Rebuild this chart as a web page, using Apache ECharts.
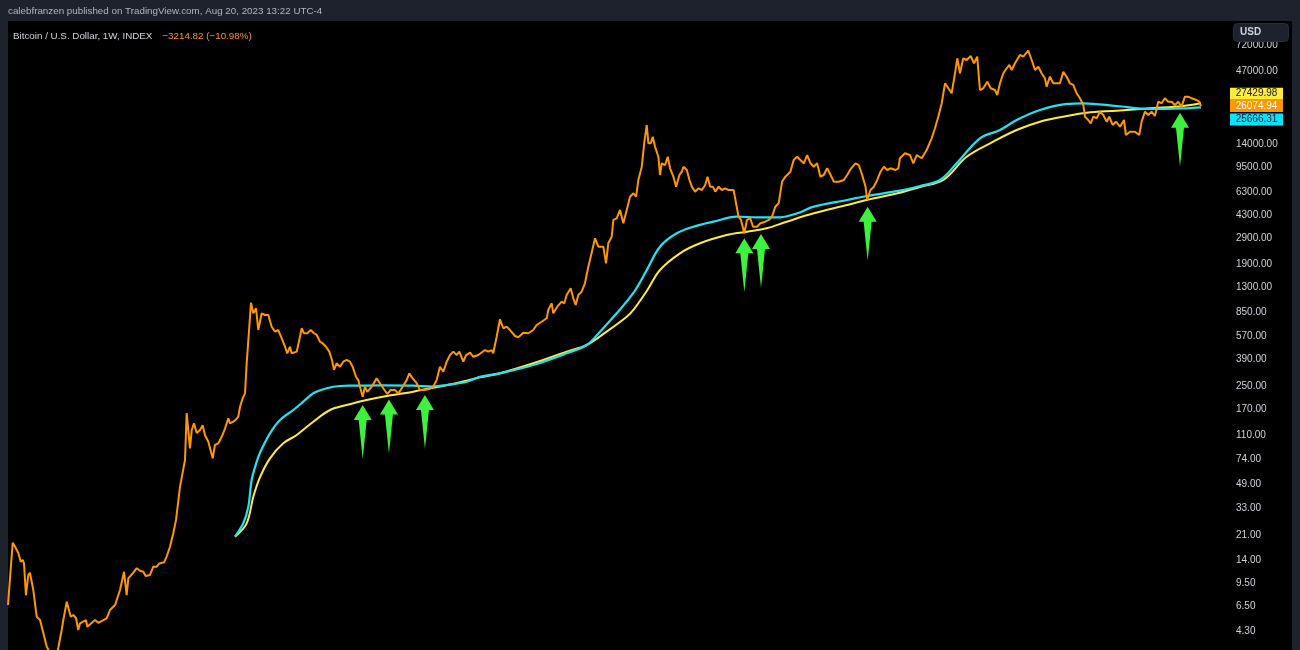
<!DOCTYPE html>
<html><head><meta charset="utf-8">
<script src="https://cdn.jsdelivr.net/npm/echarts@6/dist/echarts.min.js"></script>
<style>html,body{margin:0;padding:0;background:#000;}#c{width:1300px;height:650px;}</style>
</head><body><div id="c"></div>
<script>
// ---- DATA (decimal year, price in USD) ----
const btc = [
[2011.430,6.62],[2011.478,18.6],[2011.502,17.4],[2011.536,15.7],[2011.560,13.6],[2011.581,14.0],[2011.594,13.2],[2011.614,7.8],[2011.638,10.9],[2011.655,11.3],[2011.689,8.5],[2011.724,5.45],[2011.758,5.16],[2011.792,4.16],[2011.827,3.31],[2011.860,3.0],[2011.905,2.8],[2011.935,3.05],[2011.945,3.24],[2011.980,4.37],[2011.997,5.16],[2012.032,6.99],[2012.048,7.08],[2012.073,5.45],[2012.099,5.61],[2012.127,5.34],[2012.150,4.37],[2012.168,4.89],[2012.229,5.16],[2012.243,4.62],[2012.322,5.16],[2012.355,4.93],[2012.441,5.31],[2012.475,6.09],[2012.527,6.62],[2012.578,8.5],[2012.595,8.74],[2012.619,11.5],[2012.646,7.8],[2012.663,10.3],[2012.708,11.2],[2012.749,12.2],[2012.783,11.7],[2012.817,11.5],[2012.841,10.7],[2012.885,10.9],[2012.919,12.5],[2012.954,12.5],[2012.981,13.2],[2013.029,13.45],[2013.056,14.8],[2013.090,17.4],[2013.124,21.8],[2013.152,27.2],[2013.193,47.2],[2013.244,73.5],[2013.261,160],[2013.278,164],[2013.295,89],[2013.313,121],[2013.336,135],[2013.364,115],[2013.398,121],[2013.425,131],[2013.449,111],[2013.483,99.6],[2013.500,99.6],[2013.528,75.6],[2013.551,94.3],[2013.586,97],[2013.620,108],[2013.654,124],[2013.688,147],[2013.705,135],[2013.739,139],[2013.767,144],[2013.790,151],[2013.808,178],[2013.835,205],[2013.859,222],[2013.876,366],[2013.903,672],[2013.920,1001],[2013.944,840],[2013.972,912],[2013.995,636],[2014.030,840],[2014.064,816],[2014.098,816],[2014.132,672],[2014.166,619],[2014.200,636],[2014.235,554],[2014.269,482],[2014.292,432],[2014.320,482],[2014.337,432],[2014.389,444],[2014.415,539],[2014.440,655],[2014.463,603],[2014.497,603],[2014.532,636],[2014.566,603],[2014.594,586],[2014.627,524],[2014.655,510],[2014.689,482],[2014.723,444],[2014.750,387],[2014.771,328],[2014.798,366],[2014.832,346],[2014.866,376],[2014.901,387],[2014.935,376],[2014.962,346],[2014.996,293],[2015.020,277],[2015.037,248],[2015.065,210],[2015.088,248],[2015.112,228],[2015.157,248],[2015.208,285],[2015.242,263],[2015.276,242],[2015.317,220],[2015.352,235],[2015.396,235],[2015.430,222],[2015.475,248],[2015.516,277],[2015.542,310],[2015.577,285],[2015.618,263],[2015.652,235],[2015.693,235],[2015.737,238],[2015.788,248],[2015.823,277],[2015.857,346],[2015.891,318],[2015.926,376],[2015.960,420],[2015.994,444],[2016.028,420],[2016.055,444],[2016.096,376],[2016.124,420],[2016.165,437],[2016.199,408],[2016.250,420],[2016.319,456],[2016.352,444],[2016.387,456],[2016.403,432],[2016.438,569],[2016.472,760],[2016.506,655],[2016.541,672],[2016.575,636],[2016.626,576],[2016.660,564],[2016.711,608],[2016.762,603],[2016.813,636],[2016.848,691],[2016.899,730],[2016.951,773],[2016.967,887],[2017.002,991],[2017.018,840],[2017.059,937],[2017.104,1018],[2017.131,991],[2017.155,1138],[2017.197,1272],[2017.223,1077],[2017.248,964],[2017.275,1138],[2017.309,1202],[2017.343,1382],[2017.377,1820],[2017.394,2034],[2017.446,2916],[2017.480,2537],[2017.531,2537],[2017.559,1925],[2017.582,2685],[2017.617,2995],[2017.634,3953],[2017.668,4064],[2017.702,4666],[2017.736,3741],[2017.771,4666],[2017.805,5818],[2017.839,6155],[2017.867,5818],[2017.890,7676],[2017.925,9572],[2017.952,14500],[2017.976,19130],[2017.993,14110],[2018.017,14110],[2018.038,15750],[2018.061,13340],[2018.095,11300],[2018.112,8340],[2018.130,10130],[2018.164,9840],[2018.191,11300],[2018.215,9320],[2018.249,8110],[2018.277,6870],[2018.311,8340],[2018.335,8810],[2018.352,9572],[2018.387,9060],[2018.414,7676],[2018.438,6870],[2018.472,6320],[2018.506,6690],[2018.541,6500],[2018.575,7070],[2018.599,8110],[2018.626,6870],[2018.654,6870],[2018.678,6320],[2018.712,6870],[2018.746,6500],[2018.780,6690],[2018.814,6500],[2018.866,6500],[2018.883,6320],[2018.917,4175],[2018.942,3953],[2018.976,3168],[2019.003,3953],[2019.037,4064],[2019.065,3535],[2019.106,3535],[2019.140,3741],[2019.191,3842],[2019.226,3953],[2019.260,4175],[2019.294,4928],[2019.328,5213],[2019.363,7464],[2019.397,8110],[2019.448,8810],[2019.482,10700],[2019.517,11300],[2019.551,10700],[2019.585,10130],[2019.620,11620],[2019.654,10130],[2019.688,9572],[2019.722,10130],[2019.756,8110],[2019.790,8340],[2019.825,9320],[2019.852,8580],[2019.893,7464],[2019.944,7464],[2019.996,7676],[2020.030,8340],[2020.071,9320],[2020.115,10130],[2020.149,9840],[2020.184,8340],[2020.218,6870],[2020.235,5507],[2020.269,6500],[2020.303,6870],[2020.338,7676],[2020.372,8810],[2020.406,9572],[2020.441,9060],[2020.475,9320],[2020.526,9060],[2020.554,9320],[2020.571,11010],[2020.622,11960],[2020.674,11620],[2020.708,10130],[2020.743,11620],[2020.794,11010],[2020.845,12630],[2020.896,15340],[2020.930,18110],[2020.964,21960],[2020.999,27430],[2021.033,38220],[2021.067,35190],[2021.101,32370],[2021.135,45110],[2021.159,57890],[2021.186,45110],[2021.220,57890],[2021.255,56270],[2021.296,60130],[2021.330,53270],[2021.363,59440],[2021.391,34200],[2021.425,35190],[2021.466,39250],[2021.501,35190],[2021.545,34200],[2021.568,31480],[2021.596,38220],[2021.630,45110],[2021.665,49020],[2021.692,51790],[2021.716,47670],[2021.750,53270],[2021.801,61140],[2021.835,59440],[2021.886,65670],[2021.921,56270],[2021.955,47670],[2021.989,50350],[2022.023,45110],[2022.057,41530],[2022.074,36130],[2022.108,42650],[2022.142,38220],[2022.177,38220],[2022.211,38220],[2022.245,46340],[2022.279,42650],[2022.313,38220],[2022.347,37170],[2022.382,32370],[2022.416,29800],[2022.450,26670],[2022.467,21960],[2022.501,20780],[2022.526,19670],[2022.553,21960],[2022.587,21380],[2022.621,23860],[2022.655,22590],[2022.690,20210],[2022.716,21960],[2022.751,19130],[2022.785,20210],[2022.826,18600],[2022.867,20780],[2022.887,16200],[2022.928,17120],[2022.979,17120],[2023.023,16200],[2023.048,20210],[2023.082,23860],[2023.116,22590],[2023.150,23860],[2023.184,22210],[2023.218,28160],[2023.252,27430],[2023.286,29800],[2023.320,28160],[2023.355,28160],[2023.389,26670],[2023.423,28160],[2023.457,25920],[2023.491,30600],[2023.526,30600],[2023.560,29800],[2023.611,28960],[2023.638,28160],[2023.656,26074.94]
];
const maCyan = [
[2013.756,20.6],[2013.841,25.7],[2013.893,33.9],[2013.927,52.8],[2013.979,71.5],[2014.013,83.2],[2014.115,114.5],[2014.217,142.8],[2014.354,168.6],[2014.456,193.5],[2014.559,222.5],[2014.696,241.7],[2014.832,251],[2014.969,252.5],[2015.242,254],[2015.583,252.5],[2015.788,249],[2015.926,255.3],[2016.131,269.7],[2016.267,293],[2016.472,310],[2016.813,356],[2017.155,432],[2017.361,496],[2017.497,619],[2017.668,840],[2017.839,1176],[2017.976,1720],[2018.112,2537],[2018.283,3168],[2018.453,3535],[2018.658,3842],[2018.898,4175],[2019.106,4133],[2019.341,4133],[2019.517,4416],[2019.688,4928],[2020.030,5507],[2020.230,5887],[2020.571,6427],[2020.776,6950],[2020.981,7676],[2021.152,10130],[2021.391,15340],[2021.596,17600],[2021.767,20780],[2022.006,24540],[2022.279,27120],[2022.450,27430],[2022.792,26220],[2023.133,24950],[2023.474,25230],[2023.656,25666.31]
];
const maYellow = [
[2013.756,20.6],[2013.876,25.7],[2013.944,40.0],[2014.013,55.4],[2014.115,75.6],[2014.251,97],[2014.389,111.4],[2014.559,138.8],[2014.730,168.6],[2014.901,183.2],[2015.071,196.8],[2015.311,212.7],[2015.583,228.5],[2015.755,241.7],[2015.926,254],[2016.131,274.3],[2016.267,290],[2016.472,310],[2016.813,366],[2017.155,444],[2017.361,496],[2017.565,619],[2017.771,793],[2017.839,887],[2017.976,1216],[2018.112,1723],[2018.317,2273],[2018.522,2685],[2018.795,3080],[2019.003,3254],[2019.205,3443],[2019.410,3842],[2019.688,4416],[2020.030,5069],[2020.230,5507],[2020.571,6218],[2020.776,6835],[2021.015,7676],[2021.255,11300],[2021.527,14500],[2021.767,17600],[2022.006,20210],[2022.279,22210],[2022.484,23460],[2022.792,24250],[2023.133,25230],[2023.474,26220],[2023.656,27429.98]
];
const arrowTime  = [2015.065, 2015.334, 2015.703, 2018.976, 2019.147, 2020.240, 2023.441];
const arrowPrice = [183, 201, 216, 2916, 3131, 4928, 23460];
const yTicks = [72000, 47000, 14000, 9500, 6300, 4300, 2900, 1900, 1300, 850, 570, 390, 250, 170, 110, 74, 49, 33, 21, 14, 9.5, 6.5, 4.3];
const xRange = [2011.43, 2023.933];
const yRange = [3.137, 107500];
const headerText = 'calebfranzen published on TradingView.com, Aug 20, 2023 13:22 UTC-4';
const symbolText = 'Bitcoin / U.S. Dollar, 1W, INDEX';
const changeText = '\u22123214.82 (\u221210.98%)';

// ---- CHART ----
const FONT = '"Liberation Sans", Arial, sans-serif';
const chart = echarts.init(document.getElementById('c'), null, {renderer: 'canvas'});
const last = a => a[a.length - 1];

function priceTag(series, bg, fg, dy) {
  return {
    silent: true,
    animation: false,
    symbol: 'rect',
    symbolSize: [53, 12],
    symbolOffset: [28.5, dy],
    itemStyle: {color: bg},
    label: {show: true, position: 'inside', color: fg, fontSize: 10, fontFamily: FONT,
      formatter: p => Number(p.value).toFixed(2)},
    data: [{coord: [xRange[1], last(series)[1]], value: last(series)[1]}]
  };
}

const option = {
  backgroundColor: '#000000',
  animation: false,
  title: [
    {text: headerText, left: 8, top: 6, padding: 0,
     textStyle: {color: '#b2b5be', fontSize: 9.8, fontWeight: 'normal', fontFamily: FONT}},
    {text: '{a|' + symbolText + '}  {b|' + changeText + '}', left: 13, top: 27, padding: 0,
     textStyle: {fontFamily: FONT, fontWeight: 'normal', rich: {
       a: {color: '#d1d4dc', fontSize: 9.8, fontWeight: 'normal', fontFamily: FONT},
       b: {color: '#ff9800', fontSize: 9.8, fontWeight: 'normal', fontFamily: FONT}}}}
  ],
  grid: {left: 8, right: 72, top: 21, bottom: 0, containLabel: false},
  xAxis: {type: 'value', min: xRange[0], max: xRange[1], show: false},
  yAxis: {
    type: 'log', logBase: 10, min: yRange[0], max: yRange[1], position: 'right',
    axisLine: {show: false}, axisTick: {show: false}, splitLine: {show: false},
    axisLabel: {customValues: yTicks, formatter: v => Number(v).toFixed(2),
      color: '#d1d4dc', fontSize: 10, fontFamily: FONT, margin: 8}
  },
  series: [
    {name: 'MA yellow', type: 'line', data: maYellow, showSymbol: false, symbol: 'none',
     smooth: 0.35, lineStyle: {color: '#ffeb3b', width: 2}, z: 2, silent: true,
     markPoint: priceTag(maYellow, '#ffeb3b', '#131722', -9.6)},
    {name: 'MA cyan', type: 'line', data: maCyan, showSymbol: false, symbol: 'none',
     smooth: 0.35, lineStyle: {color: '#22e3f2', width: 2.2}, z: 2, silent: true,
     markPoint: priceTag(maCyan, '#00e5ff', '#131722', 12.2)},
    {name: 'BTCUSD', type: 'line', data: btc, showSymbol: false, symbol: 'none',
     lineStyle: {color: '#ff9800', width: 2}, z: 3, silent: true,
     markPoint: {
       silent: true, animation: false,
       symbol: 'path://M9,0 L18,15 L13,15 L9,54 L5,15 L0,15 Z',
       symbolSize: [18, 54], symbolOffset: [0, '50%'], symbolKeepAspect: false,
       itemStyle: {color: '#3cf23c'}, label: {show: false},
       data: arrowTime.map((t, i) => ({coord: [t, arrowPrice[i]]}))
     }},
    {name: 'tag', type: 'line', data: [], silent: true,
     markPoint: priceTag(btc, '#ff9800', '#ffffff', -0.3)}
  ],
  graphic: [
    {type: 'rect', shape: {x: 0, y: 0, width: 1300, height: 21}, style: {fill: '#1e222d'}, silent: true},
    {type: 'rect', shape: {x: 0, y: 0, width: 8, height: 650}, style: {fill: '#1e222d'}, silent: true},
    {type: 'rect', shape: {x: 1292, y: 0, width: 8, height: 650}, style: {fill: '#1e222d'}, silent: true},
    {type: 'rect', z: 100, shape: {x: 1233.5, y: 23.5, width: 55, height: 18, r: 4},
     style: {fill: '#1e222d', stroke: '#2a2e39', lineWidth: 1}, silent: true},
    {type: 'text', z: 101, x: 1240, y: 32.5,
     style: {text: 'USD', fill: '#d1d4dc', font: 'bold 10px ' + FONT, textVerticalAlign: 'middle', verticalAlign: 'middle'}, silent: true}
  ]
};
chart.setOption(option);
</script>
</body></html>
